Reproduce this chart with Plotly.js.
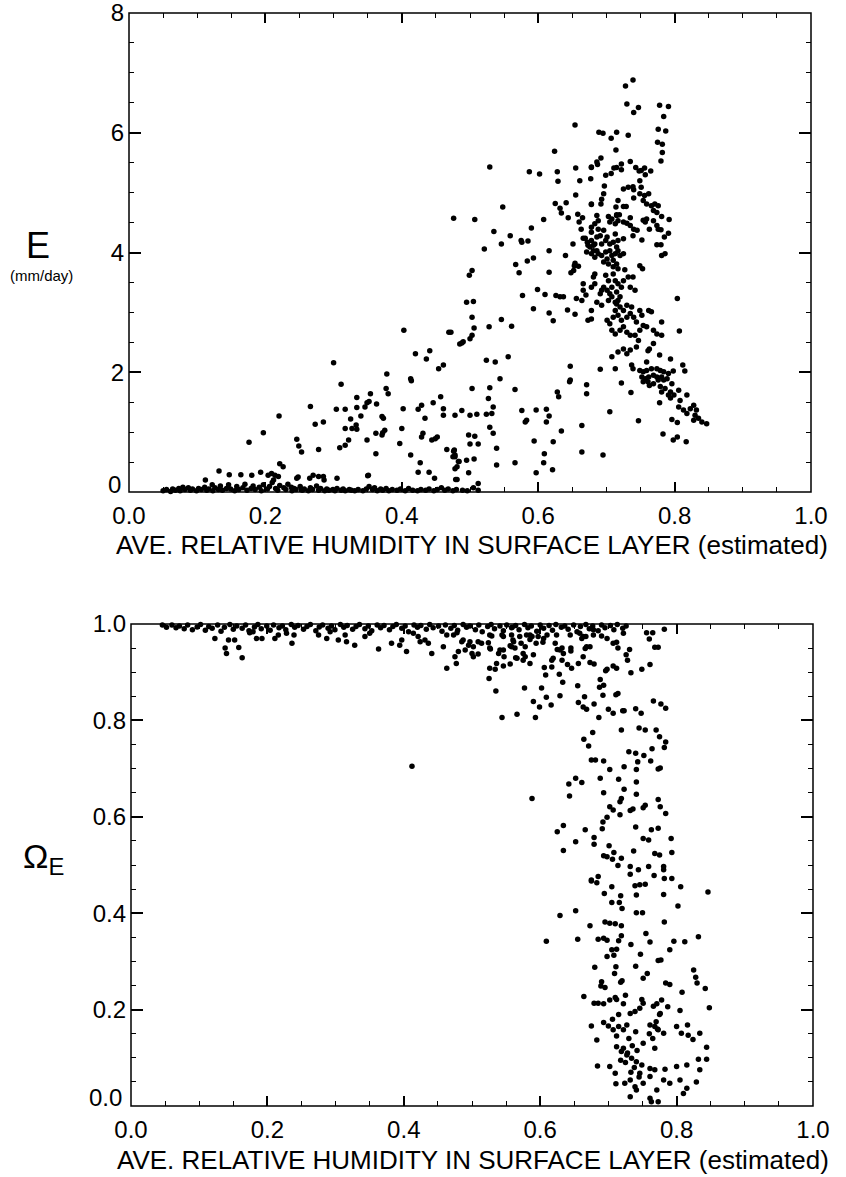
<!DOCTYPE html>
<html>
<head>
<meta charset="utf-8">
<script src="https://cdn.plot.ly/plotly-3.0.1.min.js"></script>
<style>html,body{margin:0;padding:0;background:#fff;}#chart{width:846px;height:1177px;}</style>
</head>
<body>
<div id="chart"></div>
<script>
// ---------- Upper panel: E (mm/day) vs relative humidity ----------
const evapUpper = [[0.739,6.88],[0.728,6.78],[0.730,6.48],[0.747,6.42],[0.740,6.34],[0.778,6.46],[0.791,6.44],[0.784,6.27],[0.776,6.06],[0.787,6.03],[0.654,6.13],[0.689,6.01],[0.695,5.99],[0.707,5.91],[0.715,6.01],[0.714,5.71],[0.732,5.96],[0.775,5.84],[0.782,5.81],[0.782,5.67],[0.780,5.53],[0.624,5.69],[0.529,5.43],[0.587,5.35],[0.602,5.31],[0.628,5.35],[0.629,5.19],[0.655,5.41],[0.678,5.43],[0.686,5.51],[0.692,5.58],[0.678,5.42],[0.687,5.47],[0.699,5.29],[0.707,5.32],[0.711,5.41],[0.715,5.42],[0.722,5.48],[0.722,5.38],[0.735,5.52],[0.743,5.42],[0.748,5.36],[0.756,5.41],[0.751,5.37],[0.757,5.30],[0.765,5.36],[0.749,5.20],[0.751,5.09],[0.661,5.20],[0.677,5.23],[0.697,5.11],[0.725,5.06],[0.732,5.09],[0.739,5.10],[0.740,5.05],[0.696,4.98],[0.693,4.89],[0.692,4.81],[0.678,4.81],[0.655,4.96],[0.740,4.91],[0.749,4.98],[0.756,4.95],[0.762,4.98],[0.754,4.87],[0.759,4.81],[0.766,4.78],[0.771,4.81],[0.776,4.78],[0.769,4.70],[0.774,4.67],[0.781,4.60],[0.792,4.55],[0.625,4.82],[0.632,4.74],[0.641,4.83],[0.634,4.66],[0.644,4.58],[0.548,4.76],[0.476,4.57],[0.507,4.55],[0.608,4.55],[0.590,4.41],[0.535,4.35],[0.559,4.28],[0.575,4.20],[0.585,4.19],[0.521,4.06],[0.546,4.14],[0.616,4.03],[0.640,3.95],[0.658,4.64],[0.665,4.58],[0.660,4.51],[0.663,4.39],[0.678,4.80],[0.717,4.87],[0.714,4.76],[0.725,4.77],[0.729,4.77],[0.719,4.63],[0.715,4.63],[0.686,4.62],[0.688,4.53],[0.678,4.42],[0.703,4.60],[0.708,4.56],[0.705,4.51],[0.715,4.62],[0.717,4.53],[0.713,4.48],[0.725,4.51],[0.730,4.49],[0.735,4.58],[0.754,4.54],[0.759,4.56],[0.757,4.51],[0.769,4.53],[0.763,4.39],[0.774,4.45],[0.776,4.39],[0.780,4.38],[0.785,4.26],[0.791,4.32],[0.735,4.45],[0.740,4.39],[0.745,4.37],[0.752,4.21],[0.739,4.28],[0.725,4.23],[0.774,4.13],[0.780,4.13],[0.781,3.95],[0.786,3.98],[0.651,4.14],[0.666,4.24],[0.673,4.12],[0.669,4.24],[0.672,4.17],[0.676,4.09],[0.681,4.12],[0.686,4.03],[0.678,3.98],[0.671,4.01]];

const evapCore = [[0.683,4.48],[0.688,4.39],[0.678,4.34],[0.686,4.26],[0.678,4.20],[0.683,4.14],[0.691,4.28],[0.696,4.37],[0.699,4.20],[0.701,4.26],[0.693,4.14],[0.705,4.14],[0.713,4.31],[0.710,4.17],[0.717,4.20],[0.715,4.09],[0.717,4.03],[0.720,3.95],[0.725,3.98],[0.681,4.03],[0.688,3.98],[0.683,3.92],[0.693,3.95],[0.699,4.01],[0.701,3.89],[0.705,4.03],[0.708,3.95],[0.713,3.98],[0.696,3.84],[0.703,3.81],[0.710,3.87],[0.715,3.81],[0.717,3.73],[0.710,3.76],[0.749,3.78],[0.753,3.73],[0.727,3.71],[0.732,3.59],[0.739,3.59],[0.735,3.42],[0.742,3.37],[0.725,3.53],[0.683,3.64],[0.681,3.59],[0.699,3.62],[0.703,3.53],[0.696,3.42],[0.710,3.64],[0.713,3.53],[0.708,3.42],[0.717,3.48],[0.715,3.34],[0.722,3.42],[0.720,3.26],[0.705,3.31],[0.701,3.37],[0.691,3.31],[0.693,3.37],[0.683,3.48],[0.678,3.42],[0.686,3.17],[0.693,3.12],[0.703,3.20],[0.708,3.26],[0.713,3.17],[0.717,3.20],[0.804,3.23],[0.807,2.69],[0.781,2.84],[0.715,3.14],[0.720,3.09],[0.725,3.03],[0.713,3.03],[0.717,2.95],[0.710,2.92],[0.722,2.87],[0.730,2.92],[0.735,2.98],[0.740,2.92],[0.737,3.09],[0.730,3.12],[0.749,3.03],[0.752,2.95],[0.744,2.84],[0.754,2.78],[0.749,2.70],[0.762,3.03],[0.766,3.01],[0.759,2.76],[0.769,2.70],[0.774,2.64],[0.781,2.62],[0.708,2.70],[0.713,2.64],[0.720,2.70],[0.725,2.76],[0.730,2.67],[0.735,2.62],[0.742,2.62],[0.701,2.87],[0.705,2.81],[0.678,3.03],[0.678,2.89]];

const evapTail = [[0.708,2.26],[0.717,2.34],[0.725,2.39],[0.730,2.31],[0.735,2.37],[0.744,2.42],[0.747,2.53],[0.763,2.39],[0.769,2.48],[0.761,2.36],[0.778,2.29],[0.794,2.22],[0.812,2.12],[0.815,2.02],[0.798,2.02],[0.691,2.05],[0.713,2.06],[0.737,2.12],[0.739,2.06],[0.759,2.17],[0.749,2.03],[0.754,2.01],[0.759,2.03],[0.766,2.06],[0.774,2.06],[0.779,2.03],[0.784,2.01],[0.791,1.98],[0.752,1.92],[0.757,1.89],[0.762,1.92],[0.769,1.95],[0.774,1.92],[0.781,1.92],[0.754,1.84],[0.761,1.84],[0.769,1.81],[0.776,1.87],[0.784,1.87],[0.789,1.89],[0.763,1.78],[0.779,1.76],[0.786,1.73],[0.794,1.67],[0.799,1.62],[0.791,1.62],[0.781,1.67],[0.806,1.70],[0.796,1.81],[0.722,1.82],[0.736,1.66],[0.705,1.34],[0.747,1.19],[0.778,1.49],[0.794,1.57],[0.808,1.53],[0.818,1.62],[0.806,1.42],[0.813,1.37],[0.818,1.31],[0.823,1.39],[0.828,1.45],[0.832,1.37],[0.830,1.28],[0.835,1.23],[0.840,1.17],[0.847,1.14],[0.828,1.20],[0.796,1.21],[0.804,1.16],[0.783,0.97],[0.798,0.87],[0.804,0.92],[0.817,0.84],[0.695,0.62]];

const evapRising = [[0.576,4.17],[0.593,3.91],[0.584,3.86],[0.567,3.80],[0.572,3.66],[0.616,3.67],[0.654,3.82],[0.659,3.77],[0.653,3.78],[0.648,3.66],[0.652,3.70],[0.503,3.70],[0.499,3.62],[0.495,3.17],[0.505,3.18],[0.503,2.92],[0.506,2.74],[0.503,2.62],[0.500,2.56],[0.490,2.51],[0.485,2.47],[0.472,2.67],[0.528,2.76],[0.546,2.88],[0.561,2.77],[0.577,3.28],[0.593,3.06],[0.599,3.38],[0.610,3.30],[0.616,2.99],[0.622,2.86],[0.626,3.28],[0.632,3.26],[0.637,3.26],[0.643,3.04],[0.654,2.97],[0.656,3.23],[0.666,3.48],[0.666,3.37],[0.664,3.20],[0.673,2.87],[0.670,3.29],[0.488,2.49],[0.524,2.20],[0.537,2.17],[0.556,2.26],[0.544,1.89],[0.503,1.73],[0.529,1.74],[0.566,1.71],[0.527,1.56],[0.534,1.42],[0.532,1.31],[0.524,1.30],[0.510,1.30],[0.500,1.28],[0.488,1.36],[0.478,1.28],[0.576,1.36],[0.581,1.17],[0.583,1.20],[0.597,1.37],[0.612,1.38],[0.616,1.27],[0.612,1.17],[0.628,1.67],[0.630,1.59],[0.647,2.10],[0.647,1.87],[0.646,1.84],[0.671,1.79],[0.671,1.64],[0.664,1.11],[0.634,1.02],[0.622,0.84],[0.609,0.64],[0.608,0.49],[0.594,0.85],[0.597,0.32],[0.621,0.37],[0.664,0.67],[0.529,1.08],[0.534,0.98],[0.539,0.73],[0.498,0.95],[0.507,0.93],[0.500,0.80],[0.512,0.80],[0.506,0.55],[0.495,0.53],[0.477,0.70],[0.478,0.59],[0.483,0.51],[0.478,0.39],[0.481,0.21],[0.512,0.14],[0.498,0.32],[0.539,0.45],[0.566,0.49]];

const evapDry = [[0.403,2.70],[0.469,2.67],[0.420,2.31],[0.441,2.36],[0.436,2.22],[0.454,2.06],[0.461,2.12],[0.300,2.16],[0.311,1.80],[0.378,1.97],[0.377,1.73],[0.380,1.64],[0.413,1.89],[0.414,1.86],[0.334,1.58],[0.354,1.64],[0.349,1.49],[0.363,1.47],[0.346,1.42],[0.352,1.51],[0.317,1.38],[0.334,1.41],[0.325,1.22],[0.340,1.27],[0.333,1.12],[0.327,1.06],[0.334,1.05],[0.317,1.06],[0.322,0.87],[0.304,1.38],[0.266,1.43],[0.273,1.13],[0.285,1.17],[0.278,0.71],[0.309,0.74],[0.317,0.78],[0.371,1.26],[0.373,1.23],[0.375,1.03],[0.372,0.99],[0.371,0.95],[0.362,0.98],[0.349,0.87],[0.362,0.64],[0.350,0.27],[0.402,1.39],[0.400,1.06],[0.397,0.81],[0.413,0.62],[0.424,0.33],[0.427,0.49],[0.431,0.98],[0.429,0.92],[0.424,1.38],[0.429,1.45],[0.434,1.23],[0.446,1.49],[0.461,1.39],[0.457,1.59],[0.461,1.28],[0.444,0.87],[0.449,0.89],[0.452,0.92],[0.466,0.71],[0.476,0.68],[0.478,0.62],[0.475,0.59],[0.481,0.42],[0.484,0.51],[0.479,0.21],[0.440,0.33],[0.448,0.23],[0.220,1.27],[0.197,0.99],[0.176,0.83],[0.246,0.88],[0.249,0.77],[0.253,0.67],[0.221,0.47],[0.226,0.42],[0.132,0.35],[0.147,0.29],[0.164,0.29],[0.180,0.28],[0.193,0.33],[0.112,0.20],[0.122,0.12],[0.204,0.28],[0.209,0.31],[0.214,0.28],[0.219,0.26],[0.212,0.20],[0.246,0.23],[0.248,0.25],[0.270,0.28],[0.278,0.26],[0.285,0.26],[0.286,0.20],[0.265,0.23],[0.305,0.23],[0.351,0.28],[0.238,0.08]];

const evapLow = [[0.050,0.02],[0.055,0.04],[0.061,0.01],[0.064,0.05],[0.068,0.03],[0.073,0.06],[0.075,0.02],[0.079,0.08],[0.082,0.04],[0.087,0.07],[0.090,0.03],[0.093,0.05],[0.099,0.02],[0.102,0.06],[0.106,0.04],[0.111,0.08],[0.114,0.03],[0.117,0.05],[0.123,0.02],[0.126,0.07],[0.131,0.04],[0.134,0.10],[0.137,0.03],[0.143,0.06],[0.146,0.12],[0.149,0.05],[0.155,0.02],[0.158,0.09],[0.161,0.04],[0.167,0.07],[0.170,0.13],[0.173,0.03],[0.179,0.06],[0.182,0.10],[0.185,0.04],[0.191,0.08],[0.194,0.02],[0.197,0.12],[0.203,0.05],[0.206,0.09],[0.210,0.16],[0.215,0.06],[0.218,0.03],[0.221,0.11],[0.227,0.07],[0.230,0.04],[0.233,0.13],[0.239,0.02],[0.242,0.06],[0.245,0.04],[0.251,0.09],[0.254,0.03],[0.257,0.05],[0.263,0.02],[0.266,0.07],[0.269,0.04],[0.275,0.10],[0.278,0.03],[0.281,0.06],[0.287,0.02],[0.290,0.05],[0.293,0.03],[0.299,0.04],[0.302,0.02],[0.305,0.06],[0.311,0.03],[0.314,0.05],[0.317,0.02],[0.323,0.04],[0.326,0.03],[0.331,0.02],[0.336,0.04],[0.343,0.02],[0.348,0.05],[0.352,0.09],[0.357,0.04],[0.360,0.07],[0.364,0.02],[0.369,0.05],[0.372,0.03],[0.377,0.06],[0.381,0.02],[0.386,0.04],[0.393,0.03],[0.398,0.05],[0.405,0.02],[0.410,0.06],[0.416,0.03],[0.423,0.02],[0.428,0.04],[0.435,0.03],[0.440,0.05],[0.447,0.02],[0.452,0.04],[0.458,0.07],[0.463,0.03],[0.468,0.05],[0.475,0.02],[0.480,0.04],[0.489,0.03],[0.496,0.02],[0.505,0.07],[0.512,0.03]];

// ---------- Lower panel: Omega_E vs relative humidity ----------
const omegaBand = [[0.046,0.998],[0.052,0.993],[0.060,0.998],[0.066,0.992],[0.071,0.996],[0.078,0.990],[0.083,0.998],[0.090,0.988],[0.097,0.994],[0.102,0.999],[0.109,0.987],[0.114,0.995],[0.119,0.991],[0.127,0.998],[0.132,0.985],[0.137,0.993],[0.145,0.999],[0.150,0.989],[0.155,0.996],[0.163,0.991],[0.168,0.998],[0.173,0.986],[0.181,0.994],[0.186,0.999],[0.191,0.990],[0.199,0.996],[0.204,0.987],[0.209,0.998],[0.217,0.992],[0.222,0.996],[0.227,0.988],[0.235,0.999],[0.240,0.993],[0.245,0.997],[0.253,0.989],[0.258,0.995],[0.263,0.999],[0.271,0.986],[0.276,0.994],[0.281,0.998],[0.289,0.991],[0.294,0.996],[0.299,0.988],[0.307,0.999],[0.312,0.993],[0.317,0.997],[0.325,0.989],[0.330,0.995],[0.335,0.999],[0.343,0.990],[0.348,0.996],[0.353,0.986],[0.361,0.998],[0.366,0.992],[0.371,0.997],[0.379,0.988],[0.384,0.995],[0.389,0.999],[0.397,0.991],[0.402,0.996],[0.407,0.984],[0.415,0.998],[0.420,0.993],[0.425,0.997],[0.433,0.989],[0.438,0.999],[0.443,0.992],[0.451,0.996],[0.456,0.985],[0.461,0.998],[0.469,0.991],[0.474,0.997],[0.479,0.987],[0.487,0.999],[0.492,0.993],[0.497,0.996],[0.505,0.988],[0.510,0.998],[0.515,0.984],[0.523,0.995],[0.528,0.999],[0.533,0.990],[0.541,0.996],[0.546,0.986],[0.551,0.998],[0.559,0.993],[0.564,0.997],[0.569,0.988],[0.577,0.999],[0.582,0.992],[0.587,0.996],[0.595,0.985],[0.600,0.998],[0.605,0.991],[0.613,0.997],[0.618,0.987],[0.623,0.999],[0.631,0.993],[0.636,0.996],[0.641,0.989],[0.649,0.998],[0.654,0.984],[0.659,0.995],[0.667,0.999],[0.672,0.990],[0.677,0.996],[0.685,0.986],[0.690,0.998],[0.695,0.992],[0.703,0.997],[0.708,0.988],[0.713,0.999],[0.721,0.991],[0.726,0.996]];

const omegaUpper = [[0.123,0.970],[0.138,0.950],[0.140,0.939],[0.143,0.967],[0.152,0.967],[0.158,0.951],[0.163,0.930],[0.174,0.982],[0.184,0.970],[0.192,0.970],[0.179,0.984],[0.211,0.970],[0.216,0.977],[0.228,0.981],[0.236,0.960],[0.239,0.977],[0.275,0.977],[0.287,0.970],[0.292,0.984],[0.304,0.967],[0.314,0.977],[0.316,0.963],[0.328,0.956],[0.343,0.974],[0.350,0.981],[0.363,0.948],[0.382,0.960],[0.394,0.956],[0.397,0.967],[0.404,0.943],[0.414,0.981],[0.421,0.974],[0.424,0.963],[0.431,0.967],[0.436,0.960],[0.441,0.939],[0.458,0.953],[0.463,0.977],[0.473,0.977],[0.475,0.932],[0.477,0.918],[0.485,0.963],[0.490,0.946],[0.495,0.956],[0.500,0.939],[0.502,0.932],[0.509,0.963],[0.514,0.960],[0.524,0.961],[0.526,0.977],[0.541,0.946],[0.546,0.946],[0.544,0.977],[0.558,0.953],[0.563,0.950],[0.558,0.977],[0.570,0.974],[0.575,0.939],[0.580,0.977],[0.588,0.974],[0.590,0.936],[0.597,0.974],[0.605,0.970],[0.610,0.977],[0.617,0.911],[0.622,0.960],[0.632,0.950],[0.634,0.939],[0.656,0.918],[0.658,0.981],[0.663,0.974],[0.661,0.970],[0.668,0.953],[0.673,0.953],[0.678,0.988],[0.463,0.908],[0.526,0.908],[0.536,0.918],[0.556,0.917],[0.566,0.929],[0.578,0.932],[0.585,0.918],[0.632,0.925],[0.646,0.908],[0.539,0.939],[0.578,0.953],[0.561,0.963],[0.480,0.943],[0.412,0.705],[0.525,0.887],[0.534,0.906],[0.535,0.861],[0.527,0.948],[0.478,0.982],[0.487,0.967],[0.497,0.963],[0.502,0.953],[0.509,0.938]];

const omegaMid = [[0.526,0.950],[0.546,0.913],[0.547,0.932],[0.556,0.955],[0.564,0.930],[0.560,0.967],[0.572,0.960],[0.575,0.925],[0.577,0.867],[0.544,0.806],[0.566,0.813],[0.593,0.806],[0.590,0.839],[0.599,0.828],[0.602,0.867],[0.609,0.848],[0.616,0.832],[0.606,0.910],[0.608,0.894],[0.617,0.925],[0.619,0.929],[0.629,0.946],[0.625,0.947],[0.645,0.950],[0.645,0.944],[0.640,0.916],[0.629,0.851],[0.628,0.896],[0.633,0.879],[0.655,0.872],[0.656,0.837],[0.663,0.828],[0.668,0.823],[0.665,0.849],[0.666,0.949],[0.663,0.932],[0.673,0.920],[0.679,0.917],[0.679,0.834],[0.686,0.806],[0.688,0.885],[0.687,0.869],[0.693,0.873],[0.692,0.852],[0.696,0.903],[0.698,0.906],[0.707,0.913],[0.712,0.908],[0.700,0.823],[0.707,0.815],[0.711,0.853],[0.714,0.856],[0.721,0.820],[0.723,0.820],[0.733,0.899],[0.728,0.925],[0.726,0.936],[0.731,0.947],[0.714,0.950],[0.707,0.960],[0.712,0.962],[0.722,0.981],[0.749,0.906],[0.761,0.916],[0.740,0.824],[0.748,0.815],[0.766,0.840],[0.777,0.834],[0.784,0.825],[0.756,0.982],[0.765,0.982],[0.760,0.969],[0.768,0.952],[0.773,0.952],[0.782,0.989],[0.678,0.977],[0.690,0.975],[0.698,0.970],[0.667,0.974],[0.644,0.977],[0.624,0.977],[0.585,0.977],[0.585,0.968],[0.594,0.960],[0.604,0.962],[0.558,0.992],[0.529,0.975],[0.546,0.974],[0.719,0.780],[0.677,0.775],[0.664,0.761],[0.671,0.747],[0.745,0.784],[0.754,0.780],[0.770,0.780],[0.775,0.766],[0.784,0.755],[0.782,0.744],[0.764,0.741],[0.752,0.727],[0.740,0.732],[0.730,0.735],[0.743,0.714],[0.762,0.716],[0.776,0.701],[0.773,0.699],[0.675,0.718],[0.681,0.718],[0.693,0.716],[0.702,0.698],[0.723,0.704],[0.741,0.698],[0.715,0.678],[0.688,0.680],[0.652,0.680],[0.642,0.668],[0.661,0.671],[0.643,0.643],[0.588,0.638],[0.693,0.650],[0.723,0.657],[0.741,0.672],[0.741,0.647],[0.702,0.621],[0.707,0.614],[0.717,0.631],[0.719,0.638],[0.717,0.604],[0.732,0.613],[0.736,0.616],[0.751,0.619],[0.754,0.624],[0.773,0.636],[0.776,0.621],[0.784,0.607],[0.698,0.599],[0.692,0.589],[0.691,0.575],[0.634,0.582],[0.625,0.569],[0.666,0.573],[0.652,0.548],[0.634,0.530],[0.679,0.557],[0.679,0.543],[0.701,0.540],[0.693,0.519],[0.698,0.517],[0.708,0.526],[0.706,0.512],[0.714,0.499],[0.719,0.514],[0.732,0.497],[0.732,0.481],[0.737,0.529],[0.740,0.579],[0.763,0.573],[0.773,0.576],[0.751,0.555],[0.759,0.552],[0.768,0.524],[0.775,0.521],[0.792,0.555],[0.793,0.526],[0.759,0.497],[0.781,0.497],[0.781,0.490],[0.793,0.472],[0.744,0.490],[0.685,0.476],[0.675,0.469]];

const omegaLow = [[0.675,0.467],[0.683,0.463],[0.705,0.455],[0.694,0.441],[0.718,0.436],[0.739,0.457],[0.746,0.459],[0.754,0.460],[0.767,0.478],[0.782,0.472],[0.806,0.455],[0.781,0.439],[0.741,0.438],[0.716,0.422],[0.705,0.422],[0.720,0.410],[0.741,0.401],[0.750,0.401],[0.782,0.382],[0.802,0.415],[0.846,0.444],[0.629,0.395],[0.652,0.405],[0.609,0.342],[0.655,0.346],[0.673,0.374],[0.695,0.382],[0.702,0.379],[0.710,0.378],[0.719,0.374],[0.685,0.346],[0.693,0.348],[0.698,0.344],[0.719,0.353],[0.715,0.343],[0.733,0.335],[0.755,0.358],[0.761,0.340],[0.796,0.342],[0.812,0.341],[0.832,0.351],[0.790,0.324],[0.777,0.303],[0.773,0.302],[0.747,0.315],[0.740,0.290],[0.708,0.313],[0.698,0.310],[0.705,0.324],[0.712,0.325],[0.711,0.289],[0.709,0.275],[0.680,0.288],[0.690,0.258],[0.695,0.246],[0.689,0.249],[0.718,0.257],[0.751,0.265],[0.757,0.275],[0.784,0.255],[0.790,0.252],[0.808,0.236],[0.825,0.282],[0.828,0.267],[0.830,0.255],[0.842,0.244],[0.664,0.227],[0.679,0.213],[0.685,0.213],[0.693,0.212],[0.702,0.220],[0.710,0.225],[0.712,0.221],[0.722,0.212],[0.732,0.192],[0.739,0.196],[0.749,0.221],[0.751,0.213],[0.746,0.203],[0.766,0.207],[0.771,0.212],[0.776,0.192],[0.787,0.206],[0.805,0.198],[0.848,0.204],[0.675,0.166],[0.683,0.137],[0.693,0.173],[0.700,0.166],[0.707,0.158],[0.715,0.165],[0.722,0.158],[0.727,0.168],[0.740,0.154],[0.751,0.130],[0.761,0.168],[0.768,0.165],[0.773,0.158],[0.781,0.151],[0.800,0.165],[0.807,0.151],[0.816,0.168],[0.817,0.147],[0.824,0.138],[0.834,0.151],[0.844,0.122],[0.712,0.123],[0.719,0.113],[0.727,0.106],[0.734,0.099],[0.741,0.092],[0.749,0.085],[0.761,0.078],[0.768,0.075],[0.783,0.076],[0.800,0.082],[0.815,0.085],[0.832,0.097],[0.844,0.097],[0.684,0.083],[0.702,0.082],[0.710,0.068],[0.724,0.047],[0.732,0.054],[0.739,0.040],[0.746,0.068],[0.751,0.047],[0.761,0.061],[0.771,0.033],[0.781,0.054],[0.790,0.047],[0.805,0.054],[0.810,0.026],[0.829,0.050],[0.834,0.075],[0.732,0.019],[0.741,0.033],[0.761,0.016],[0.763,0.009],[0.773,0.009],[0.711,0.046],[0.815,0.037],[0.722,0.120],[0.728,0.110],[0.735,0.125],[0.730,0.140],[0.738,0.080],[0.745,0.060],[0.725,0.090],[0.742,0.115],[0.718,0.095],[0.733,0.070],[0.765,0.140],[0.770,0.175],[0.775,0.190],[0.768,0.120],[0.760,0.150],[0.772,0.160],[0.778,0.220],[0.715,0.190],[0.712,0.145],[0.706,0.180],[0.720,0.260],[0.725,0.230]];

const xTicks = [0, 0.2, 0.4, 0.6, 0.8, 1.0];
const xTickText = ['0.0', '0.2', '0.4', '0.6', '0.8', '1.0'];
const eTicks = [2, 4, 6, 8];
const eTickText = ['2', '4', '6', '8'];
const omegaTicks = [0.2, 0.4, 0.6, 0.8, 1.0];
const omegaTickText = ['0.2', '0.4', '0.6', '0.8', '1.0'];
const eZeroLabel = '0';
const omegaZeroLabel = '0.0';
const xTitle = 'AVE. RELATIVE HUMIDITY IN SURFACE LAYER (estimated)';

const evapAll = [].concat(evapUpper, evapCore, evapTail, evapRising, evapDry, evapLow);
const omegaAll = [].concat(omegaBand, omegaUpper, omegaMid, omegaLow);

const W = 846, H = 1177;
const FONT = 'Liberation Sans, Arial, Helvetica, sans-serif';
const markerStyle = {color: '#000', size: 5.5, line: {width: 0}};

const traces = [
  {x: evapAll.map(p => p[0]), y: evapAll.map(p => p[1]), type: 'scatter', mode: 'markers',
   marker: markerStyle, xaxis: 'x', yaxis: 'y', cliponaxis: false, hoverinfo: 'skip'},
  {x: omegaAll.map(p => p[0]), y: omegaAll.map(p => p[1]), type: 'scatter', mode: 'markers',
   marker: markerStyle, xaxis: 'x2', yaxis: 'y2', cliponaxis: false, hoverinfo: 'skip'}
];

// Axis lines are drawn by a frame shape; showline stays off so inside ticks render.
function xAxis(domain, anchor) {
  return {
    domain: domain, anchor: anchor, range: [0, 1], fixedrange: true,
    tickmode: 'array', tickvals: xTicks, ticktext: xTickText,
    ticks: 'inside', ticklen: 10, tickwidth: 1.5, tickcolor: '#000',
    minor: {tick0: 0, dtick: 0.05, ticks: 'inside', ticklen: 5, tickwidth: 1, tickcolor: '#000', showgrid: false},
    showline: false, mirror: 'ticks',
    showgrid: false, zeroline: false, ticklabelstandoff: 7,
    tickfont: {family: FONT, size: 24, color: '#000'}
  };
}

function yAxis(domain, anchor, range, vals, text, minorStep) {
  return {
    domain: domain, anchor: anchor, range: range, fixedrange: true,
    tickmode: 'array', tickvals: vals, ticktext: text,
    ticks: 'inside', ticklen: 12, tickwidth: 1.5, tickcolor: '#000',
    minor: {tick0: 0, dtick: minorStep, ticks: 'inside', ticklen: 5, tickwidth: 1, tickcolor: '#000', showgrid: false},
    showline: false, mirror: 'ticks',
    showgrid: false, zeroline: false, ticklabeloverflow: 'allow', ticklabelstandoff: 4,
    tickfont: {family: FONT, size: 24, color: '#000'}
  };
}

function frame(xr, yr) {
  return {type: 'rect', xref: xr + ' domain', yref: yr + ' domain', x0: 0, x1: 1, y0: 0, y1: 1,
          line: {color: '#000', width: 1.5}, fillcolor: 'rgba(0,0,0,0)', layer: 'above'};
}

function note(text, x, y, size, xanchor) {
  return {text: text, xref: 'paper', yref: 'paper', x: x / W, y: (H - y) / H,
          xanchor: xanchor || 'center', yanchor: 'middle', showarrow: false,
          font: {family: FONT, size: size, color: '#000'}};
}

const layout = {
  width: W, height: H,
  margin: {l: 0, r: 0, t: 0, b: 0, pad: 0},
  paper_bgcolor: '#fff', plot_bgcolor: '#fff',
  showlegend: false,
  font: {family: FONT, color: '#000', size: 24},
  xaxis: xAxis([129 / W, 811 / W], 'y'),
  yaxis: yAxis([(H - 492) / H, (H - 13) / H], 'x', [0, 8], eTicks, eTickText, 0.5),
  xaxis2: xAxis([131 / W, 813 / W], 'y2'),
  yaxis2: yAxis([(H - 1106) / H, (H - 624) / H], 'x2', [0, 1], omegaTicks, omegaTickText, 0.05),
  shapes: [frame('x', 'y'), frame('x2', 'y2')],
  annotations: [
    note('E', 38, 245, 36),
    note('(mm/day)', 41, 275, 15),
    note('Ω<sub>E</sub>', 43, 858, 34),
    note(eZeroLabel, 123, 485, 24, 'right'),
    note(omegaZeroLabel, 124, 1097, 24, 'right'),
    note(xTitle, 472, 545, 26),
    note(xTitle, 473, 1160, 26)
  ]
};

Plotly.newPlot('chart', traces, layout, {displayModeBar: false});
</script>
</body>
</html>
